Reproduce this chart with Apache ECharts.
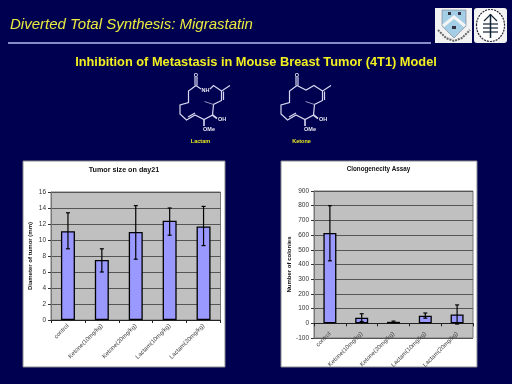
<!DOCTYPE html>
<html><head><meta charset="utf-8">
<style>html,body{margin:0;padding:0;background:#000050}#c{width:512px;height:384px}</style>
<script src="https://cdn.jsdelivr.net/npm/echarts@6/dist/echarts.min.js"></script>
</head><body><div id="c"></div>
<script>
const categoriesTumor = ['control','Ketone(10mg/kg)','Ketone(20mg/kg)','Lactam(10mg/kg)','Lactam(20mg/kg)'];
const tumorMean = [11.1,7.5,11.0,12.4,11.7];
const tumorLow  = [8.9,6.0,7.6,10.6,9.3];
const tumorHigh = [13.4,8.9,14.3,14.0,14.2];
const categoriesClono = ['control','Ketone(10mg/kg)','Ketone(20mg/kg)','Lactam(10mg/kg)','Lactam(20mg/kg)'];
const clonoMean = [615,38,10,52,60];
const clonoLow  = [425,12,5,35,-5];
const clonoHigh = [800,65,15,70,125];

const FONT = '"Liberation Sans", Arial, sans-serif';
const chart = echarts.init(document.getElementById('c'), null, {renderer:'canvas'});

function errSeries(cat, low, high, idx){
  return {type:'custom', xAxisIndex:idx, yAxisIndex:idx, z:5, silent:true,
    data: cat.map((c,i)=>[i,low[i],high[i]]),
    renderItem(p,api){
      const a=api.coord([api.value(0),api.value(1)]), b=api.coord([api.value(0),api.value(2)]);
      const st={stroke:'#000',lineWidth:1.2};
      return {type:'group',children:[
        {type:'line',shape:{x1:a[0],y1:a[1],x2:b[0],y2:b[1]},style:st},
        {type:'line',shape:{x1:a[0]-2,y1:a[1],x2:a[0]+2,y2:a[1]},style:st},
        {type:'line',shape:{x1:b[0]-2,y1:b[1],x2:b[0]+2,y2:b[1]},style:st}
      ]};
    }};
}
function barSeries(vals, idx, w){
  return {type:'bar',xAxisIndex:idx,yAxisIndex:idx,data:vals,barWidth:w,silent:true,z:3,
    itemStyle:{color:'#9999ff',borderColor:'#000',borderWidth:1.3}};
}
function xAxis(cat, idx, margin){
  return {type:'category',gridIndex:idx,data:cat,
    axisLine:{onZero:true,lineStyle:{color:'#222',width:1}},
    axisTick:{show:true,alignWithLabel:false,length:3,lineStyle:{color:'#222'}},
    axisLabel:{rotate:45,fontSize:6,color:'#444',fontFamily:FONT,margin,interval:0},
    splitLine:{show:false}};
}
function yAxis(name,min,max,interval,idx,gap){
  return {type:'value',gridIndex:idx,min,max,interval,name,nameLocation:'middle',nameGap:gap,
    nameTextStyle:{fontSize:6,fontWeight:'bold',color:'#111',fontFamily:FONT},
    axisLine:{show:true,lineStyle:{color:'#777'}},
    axisTick:{show:true,length:3,lineStyle:{color:'#333'}},
    axisLabel:{fontSize:6.5,color:'#333',fontFamily:FONT,margin:5},
    splitLine:{show:true,lineStyle:{color:'#555',width:1}}};
}
function poly(pts,w,c){return {type:'polyline',z:2,shape:{points:pts},style:{stroke:c||'#d8d8f0',lineWidth:w||1.2,fill:null}};}
function txt(x,y,t,size,color,weight,align,style){
  return {type:'text',z:3,x,y,style:{text:t,fontSize:size,fill:color,fontWeight:weight||'normal',fontStyle:style||'normal',
    fontFamily:FONT,align:align||'left',verticalAlign:'middle'}};
}
function molecule(dx, lactam){
  const m=(a)=>a.map(p=>[p[0]+dx,p[1]]);
  const els=[];
  if(lactam){
    els.push(poly([[196,85.5],[188.5,91],[188.5,102.5],[180,105],[180,114],[186.5,120],[195,115],[204,119.5],[212.5,115],[213.5,104.5],[221.5,100.5],[221.5,91],[230,85.5]]));
    els.push(poly([[196,85.5],[201,89]]));
    els.push(poly([[210,89],[213.5,85.5],[221.5,91]]));
    els.push(txt(205.5,90,'NH',5.5,'#e8e8f0','bold','center'));
  } else {
    els.push(poly([[297,85.5],[289.5,91],[289.5,102.5],[281,105],[281,114],[287.5,120],[296,115],[305,119.5],[313.5,115],[314.5,104.5],[322.5,100.5],[322.5,91],[331,85.5]]));
    els.push(poly([[297,85.5],[306,90],[314,85.5],[322.5,91]]));
  }
  els.push(poly(m([[188,117],[195,113]])));
  els.push(poly(m([[223.5,100],[223.5,91.5]])));
  els.push(poly(m([[195,77],[195,85.5]])));
  els.push(poly(m([[197,77],[197,85.5]])));
  els.push(poly(m([[204,119.5],[204,126]]),1.6));
  els.push(poly(m([[212.5,115],[217,118.5]]),1.6));
  els.push(poly(m([[204.5,101.5],[213.5,104.5]]),1,'#8f8fb8'));
  els.push(txt(196+dx,75,'O',5.5,'#e8e8f0','bold','center'));
  els.push(txt(222+dx,119.5,'OH',5.5,'#e8e8f0','bold','center'));
  els.push(txt(209+dx,129.5,'OMe',5.5,'#e8e8f0','bold','center'));
  els.push(txt(200.5+dx,141.5,lactam?'Lactam':'Ketone',5.5,'#eaea20','bold','center'));
  return els;
}
const logos = [
  {type:'rect',z:1,shape:{x:435,y:8,width:37,height:35},style:{fill:'#f2f2f2'}},
  {type:'polygon',z:2,shape:{points:[[442,10],[466,10],[466,26],[454,38],[442,26]]},style:{fill:'#a4cde6',stroke:'#667',lineWidth:0.5}},
  {type:'polyline',z:3,shape:{points:[[443,26],[454,17],[465,26]]},style:{stroke:'#f4f4f4',lineWidth:3,fill:null}},
  {type:'polygon',z:3,shape:{points:[[448,12],[451,12],[451,15],[448,15]]},style:{fill:'#334'}},
  {type:'polygon',z:3,shape:{points:[[458,12],[461,12],[461,15],[458,15]]},style:{fill:'#334'}},
  {type:'polygon',z:3,shape:{points:[[452,26],[456,26],[456,29],[452,29]]},style:{fill:'#334'}},
  {type:'polyline',z:3,shape:{points:[[438,30],[446,38],[454,41],[462,38],[470,30]]},style:{stroke:'#666',lineWidth:2,fill:null,lineDash:[2,1]}},
  {type:'rect',z:1,shape:{x:474,y:8,width:33,height:35,r:3},style:{fill:'#f2f2f2'}},
  {type:'ellipse',z:2,shape:{cx:490.5,cy:25.5,rx:14,ry:16},style:{fill:'#fff',stroke:'#223',lineWidth:1.2,lineDash:[2,1]}},
  {type:'line',z:3,shape:{x1:490.5,y1:14,x2:490.5,y2:38},style:{stroke:'#123',lineWidth:1.5}},
  {type:'line',z:3,shape:{x1:483,y1:24,x2:498,y2:24},style:{stroke:'#123',lineWidth:1.2}},
  {type:'line',z:3,shape:{x1:483,y1:28,x2:498,y2:28},style:{stroke:'#123',lineWidth:1.2}},
  {type:'line',z:3,shape:{x1:483,y1:32,x2:498,y2:32},style:{stroke:'#123',lineWidth:1.2}},
  {type:'polyline',z:3,shape:{points:[[484,21],[490.5,14.5],[497,21]]},style:{stroke:'#123',lineWidth:1.2,fill:null}}
];
const graphicEls = [
  {type:'rect',z:-10,silent:true,shape:{x:23,y:161,width:202,height:206},style:{fill:'#fff',stroke:'#8a8a8a',lineWidth:1}},
  {type:'rect',z:-10,silent:true,shape:{x:281,y:161,width:196,height:206},style:{fill:'#fff',stroke:'#8a8a8a',lineWidth:1}},
  txt(10,25,'Diverted Total Synthesis: Migrastatin',15,'#eaea40','normal','left','italic'),
  {type:'rect',z:1,shape:{x:8,y:42,width:423,height:2},style:{fill:'#8a8ac8'}},
  txt(256,62,'Inhibition of Metastasis in Mouse Breast Tumor (4T1) Model',12.8,'#f2f020','bold','center'),
  txt(124,170,'Tumor size on day21',7.2,'#111','bold','center'),
  txt(378.5,169,'Clonogenecity Assay',6.3,'#111','bold','center'),
  ...molecule(0,true),
  ...molecule(101,false),
  ...logos
];
chart.setOption({
  animation:false,
  backgroundColor:'#000050',
  grid:[
    {left:51,top:192,width:169.5,height:128,show:true,backgroundColor:'#c0c0c0',borderColor:'#777',borderWidth:1,containLabel:false},
    {left:314,top:191,width:159,height:147,show:true,backgroundColor:'#c0c0c0',borderColor:'#777',borderWidth:1,containLabel:false}
  ],
  xAxis:[xAxis(categoriesTumor,0,5),xAxis(categoriesClono,1,-5)],
  yAxis:[yAxis('Diameter of tumor (mm)',0,16,2,0,17.5),yAxis('Number of colonies',-100,900,100,1,19)],
  series:[barSeries(tumorMean,0,14),errSeries(categoriesTumor,tumorLow,tumorHigh,0),
          barSeries(clonoMean,1,13),errSeries(categoriesClono,clonoLow,clonoHigh,1)],
  graphic:{elements:graphicEls}
});
</script></body></html>
